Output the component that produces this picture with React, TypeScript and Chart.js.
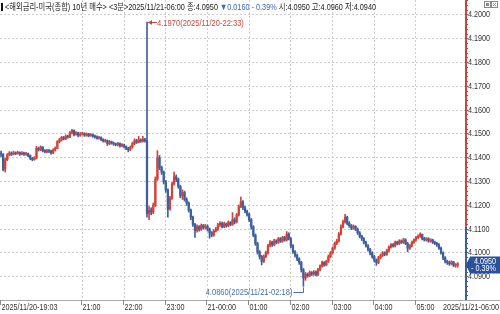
import React, { useEffect, useRef } from "react";
import { Chart, registerables } from "chart.js";
Chart.register(...registerables);

// ---- data (3-minute bars, 2025/11/20 19:03 .. 2025/11/21 06:00) ----
const firstOpen = 4.1420;
const closes = [
  4.1415, 4.1352, 4.1392, 4.1412, 4.1420, 4.1415, 4.1420, 4.1418, 4.1422, 4.1416,
  4.1420, 4.1415, 4.1418, 4.1410, 4.1398, 4.1393, 4.1398, 4.1440, 4.1435, 4.1445,
  4.1430, 4.1425, 4.1430, 4.1428, 4.1420, 4.1432, 4.1440, 4.1468, 4.1475, 4.1485,
  4.1480, 4.1490, 4.1488, 4.1505, 4.1515, 4.1498, 4.1505, 4.1495, 4.1500, 4.1502,
  4.1495, 4.1500, 4.1493, 4.1497, 4.1490, 4.1488, 4.1482, 4.1485, 4.1478, 4.1470,
  4.1472, 4.1460, 4.1468, 4.1462, 4.1458, 4.1455, 4.1460, 4.1450, 4.1455, 4.1448,
  4.1440, 4.1435, 4.1445, 4.1460, 4.1472, 4.1465, 4.1475, 4.1470, 4.1478, 4.1472,
  4.1165, 4.1180, 4.1172, 4.1200, 4.1310, 4.1400, 4.1360, 4.1340, 4.1300, 4.1265,
  4.1185, 4.1230, 4.1290, 4.1320, 4.1310, 4.1280, 4.1240, 4.1255, 4.1225, 4.1210,
  4.1180, 4.1150, 4.1120, 4.1095, 4.1110, 4.1100, 4.1115, 4.1108, 4.1112, 4.1100,
  4.1085, 4.1075, 4.1092, 4.1100, 4.1118, 4.1125, 4.1110, 4.1122, 4.1115, 4.1128,
  4.1120, 4.1140, 4.1130, 4.1160, 4.1195, 4.1215, 4.1190, 4.1175, 4.1162, 4.1140,
  4.1110, 4.1075, 4.1040, 4.1005, 4.0985, 4.0965, 4.0985, 4.1000, 4.1030, 4.1045,
  4.1035, 4.1050, 4.1045, 4.1060, 4.1050, 4.1065, 4.1055, 4.1080, 4.1060, 4.1030,
  4.1005, 4.0990, 4.0975, 4.0960, 4.0930, 4.0895, 4.0910, 4.0905, 4.0918, 4.0912,
  4.0920, 4.0910, 4.0930, 4.0945, 4.0960, 4.0950, 4.0965, 4.0985, 4.1000, 4.1020,
  4.1040, 4.1050, 4.1080, 4.1110, 4.1130, 4.1150, 4.1125, 4.1115, 4.1105, 4.1112,
  4.1100, 4.1085, 4.1070, 4.1060, 4.1045, 4.1030, 4.1015, 4.1000, 4.0985, 4.0970,
  4.0960, 4.0980, 4.0990, 4.1000, 4.0995, 4.1010, 4.1025, 4.1035, 4.1030, 4.1045,
  4.1040, 4.1050, 4.1045, 4.1055, 4.1040, 4.1020, 4.1030, 4.1045, 4.1055, 4.1065,
  4.1070, 4.1078, 4.1060, 4.1055, 4.1060, 4.1050, 4.1055, 4.1045, 4.1040, 4.1035,
  4.1020, 4.1000, 4.0980, 4.0965, 4.0960, 4.0955, 4.0962, 4.0948, 4.0950, 4.0950,
];
const highs = [
  4.1428, 4.1418, 4.1398, 4.1418, 4.1426, 4.1425, 4.1428, 4.1425, 4.1428, 4.1425,
  4.1426, 4.1424, 4.1423, 4.1420, 4.1412, 4.1402, 4.1405, 4.1448, 4.1445, 4.1450,
  4.1447, 4.1435, 4.1436, 4.1435, 4.1432, 4.1438, 4.1446, 4.1472, 4.1482, 4.1490,
  4.1490, 4.1496, 4.1495, 4.1510, 4.1520, 4.1518, 4.1510, 4.1508, 4.1506, 4.1508,
  4.1505, 4.1505, 4.1503, 4.1502, 4.1500, 4.1495, 4.1492, 4.1490, 4.1488, 4.1480,
  4.1478, 4.1475, 4.1473, 4.1470, 4.1466, 4.1462, 4.1465, 4.1463, 4.1460, 4.1458,
  4.1450, 4.1444, 4.1450, 4.1466, 4.1480, 4.1478, 4.1490, 4.1480, 4.1490, 4.1482,
  4.1970, 4.1195, 4.1190, 4.1210, 4.1320, 4.1430, 4.1410, 4.1365, 4.1345, 4.1305,
  4.1270, 4.1238, 4.1298, 4.1340, 4.1328, 4.1315, 4.1285, 4.1265, 4.1260, 4.1232,
  4.1215, 4.1185, 4.1155, 4.1125, 4.1118, 4.1115, 4.1122, 4.1120, 4.1120, 4.1118,
  4.1105, 4.1090, 4.1098, 4.1108, 4.1125, 4.1132, 4.1130, 4.1130, 4.1126, 4.1135,
  4.1132, 4.1170, 4.1148, 4.1166, 4.1202, 4.1235, 4.1220, 4.1196, 4.1180, 4.1168,
  4.1145, 4.1115, 4.1080, 4.1045, 4.1010, 4.0990, 4.0992, 4.1008, 4.1036, 4.1052,
  4.1050, 4.1058, 4.1056, 4.1066, 4.1065, 4.1070, 4.1070, 4.1090, 4.1085, 4.1065,
  4.1035, 4.1010, 4.0995, 4.0980, 4.0965, 4.0935, 4.0918, 4.0916, 4.0925, 4.0922,
  4.0926, 4.0925, 4.0936, 4.0950, 4.0966, 4.0964, 4.0970, 4.0992, 4.1006, 4.1026,
  4.1046, 4.1058, 4.1086, 4.1118, 4.1138, 4.1162, 4.1155, 4.1132, 4.1120, 4.1118,
  4.1115, 4.1105, 4.1090, 4.1075, 4.1065, 4.1050, 4.1035, 4.1020, 4.1005, 4.0990,
  4.0975, 4.0986, 4.0996, 4.1006, 4.1005, 4.1016, 4.1030, 4.1040, 4.1040, 4.1050,
  4.1050, 4.1056, 4.1055, 4.1062, 4.1060, 4.1045, 4.1036, 4.1050, 4.1060, 4.1070,
  4.1076, 4.1085, 4.1080, 4.1066, 4.1065, 4.1064, 4.1060, 4.1058, 4.1050, 4.1045,
  4.1040, 4.1025, 4.1005, 4.0985, 4.0970, 4.0966, 4.0968, 4.0965, 4.0956, 4.0960,
];
const lows = [
  4.1405, 4.1345, 4.1340, 4.1388, 4.1408, 4.1410, 4.1412, 4.1413, 4.1415, 4.1410,
  4.1412, 4.1410, 4.1410, 4.1405, 4.1392, 4.1388, 4.1390, 4.1395, 4.1428, 4.1430,
  4.1425, 4.1420, 4.1420, 4.1422, 4.1415, 4.1418, 4.1428, 4.1438, 4.1462, 4.1470,
  4.1475, 4.1476, 4.1482, 4.1485, 4.1500, 4.1492, 4.1495, 4.1488, 4.1490, 4.1495,
  4.1490, 4.1490, 4.1488, 4.1490, 4.1486, 4.1482, 4.1478, 4.1478, 4.1472, 4.1466,
  4.1465, 4.1452, 4.1455, 4.1457, 4.1452, 4.1450, 4.1450, 4.1445, 4.1446, 4.1442,
  4.1434, 4.1425, 4.1430, 4.1440, 4.1455, 4.1460, 4.1462, 4.1465, 4.1466, 4.1466,
  4.1150, 4.1140, 4.1160, 4.1165, 4.1195, 4.1305, 4.1350, 4.1330, 4.1290, 4.1255,
  4.1150, 4.1180, 4.1225, 4.1285, 4.1300, 4.1272, 4.1232, 4.1225, 4.1218, 4.1200,
  4.1172, 4.1140, 4.1112, 4.1065, 4.1088, 4.1092, 4.1095, 4.1100, 4.1102, 4.1092,
  4.1062, 4.1068, 4.1070, 4.1088, 4.1095, 4.1112, 4.1105, 4.1106, 4.1108, 4.1110,
  4.1114, 4.1116, 4.1122, 4.1126, 4.1155, 4.1190, 4.1182, 4.1168, 4.1155, 4.1132,
  4.1100, 4.1068, 4.1032, 4.0995, 4.0975, 4.0950, 4.0960, 4.0980, 4.0995, 4.1025,
  4.1028, 4.1030, 4.1038, 4.1040, 4.1044, 4.1045, 4.1050, 4.1050, 4.1055, 4.1022,
  4.0998, 4.0982, 4.0968, 4.0952, 4.0920, 4.0860, 4.0885, 4.0898, 4.0900, 4.0905,
  4.0906, 4.0904, 4.0905, 4.0925, 4.0940, 4.0944, 4.0946, 4.0960, 4.0980, 4.0995,
  4.1015, 4.1035, 4.1045, 4.1075, 4.1105, 4.1125, 4.1118, 4.1108, 4.1098, 4.1100,
  4.1094, 4.1078, 4.1064, 4.1052, 4.1038, 4.1024, 4.1008, 4.0992, 4.0978, 4.0962,
  4.0948, 4.0955, 4.0975, 4.0985, 4.0988, 4.0990, 4.1005, 4.1020, 4.1024, 4.1025,
  4.1034, 4.1035, 4.1040, 4.1040, 4.1035, 4.1005, 4.1015, 4.1025, 4.1040, 4.1050,
  4.1060, 4.1065, 4.1055, 4.1050, 4.1050, 4.1045, 4.1045, 4.1040, 4.1035, 4.1028,
  4.1015, 4.0995, 4.0972, 4.0958, 4.0952, 4.0948, 4.0950, 4.0942, 4.0940, 4.0940,
];
const prevClose = 4.1110;
const tickIdx = [0, 39, 59, 79, 99, 119, 139, 159, 179, 199, 219];
const tickLabels = [
  "2025/11/20-19:03", "21:00", "22:00", "23:00", "21-00:00", "01:00",
  "02:00", "03:00", "04:00", "05:00", "2025/11/21-06:00",
];
const maxIdx = 70;
const maxTime = "2025/11/20-22:33";
const minIdx = 145;
const minTime = "2025/11/21-02:18";
const titleText = "<해외금리-미국(종합) 10년 매수> <3분>2025/11/21-06:00";

// ---- style ----
const W = 500;
const H = 314;
const RED = "#d2423a";
const BLUE = "#3d5f9f";
const FONT = '9px "Liberation Sans", Arial, sans-serif';
const HFONT = '9px "Liberation Sans", "Noto Sans CJK KR", sans-serif';
const SX = 0.8;
const yMax = 4.2063;
const yMin = 4.08025;

const isMajor = (v: number) => Math.abs(Math.round(v * 100) - v * 100) < 1e-6;

function txt(ctx: CanvasRenderingContext2D, s: string, x: number, y: number, align: CanvasTextAlign, sx = SX) {
  ctx.save();
  ctx.translate(x, y);
  ctx.scale(sx, 1);
  ctx.textAlign = align;
  ctx.textBaseline = "middle";
  ctx.fillText(s, 0, 0);
  ctx.restore();
}

const decor = {
  id: "decor",
  afterDraw(chart: any) {
    const ctx: CanvasRenderingContext2D = chart.ctx;
    const xs = chart.scales.x;
    const ys = chart.scales.y;
    const a = chart.chartArea;
    const n = closes.length;
    const last = closes[n - 1];
    ctx.save();

    // right axis line split at previous close
    const yPrev = ys.getPixelForValue(prevClose);
    ctx.lineWidth = 2;
    ctx.strokeStyle = RED;
    ctx.beginPath();
    ctx.moveTo(a.right + 1, 0);
    ctx.lineTo(a.right + 1, yPrev);
    ctx.stroke();
    ctx.strokeStyle = BLUE;
    ctx.beginPath();
    ctx.moveTo(a.right + 1, yPrev);
    ctx.lineTo(a.right + 1, a.bottom);
    ctx.stroke();

    // bottom axis line
    ctx.strokeStyle = "#a8a8a8";
    ctx.lineWidth = 1;
    ctx.beginPath();
    ctx.moveTo(0, a.bottom + 0.5);
    ctx.lineTo(W, a.bottom + 0.5);
    ctx.stroke();

    // x ticks + labels
    ctx.font = FONT;
    tickIdx.forEach((idx, k) => {
      const isLast = k === tickIdx.length - 1;
      const px = Math.round(xs.getPixelForValue(idx)) - 0.5;
      if (!isLast) {
        ctx.strokeStyle = "#888";
        ctx.beginPath();
        ctx.moveTo(Math.max(px, 0.5), a.bottom);
        ctx.lineTo(Math.max(px, 0.5), a.bottom + 5);
        ctx.stroke();
      }
      ctx.fillStyle = "#333";
      txt(ctx, tickLabels[k], isLast ? W - 1 : Math.max(px, 0) + 1, a.bottom + 7.5, isLast ? "right" : "left");
    });

    // y labels (major ticks of the library's y scale)
    ctx.fillStyle = "#333";
    ys.ticks.forEach((t: any) => {
      if (!isMajor(t.value)) return;
      txt(ctx, t.value.toFixed(4), a.right + 3, ys.getPixelForValue(t.value), "left");
    });

    // current price tag
    const yp = ys.getPixelForValue(last);
    const x0 = a.right + 1;
    ctx.fillStyle = "#2b5196";
    ctx.beginPath();
    ctx.moveTo(x0, yp);
    ctx.lineTo(x0 + 4, yp - 8.5);
    ctx.lineTo(W, yp - 8.5);
    ctx.lineTo(W, yp + 8.5);
    ctx.lineTo(x0 + 4, yp + 8.5);
    ctx.closePath();
    ctx.fill();
    const chg = prevClose - last;
    const pct = (chg / prevClose) * 100;
    ctx.fillStyle = "#fff";
    txt(ctx, last.toFixed(4), x0 + 8, yp - 3.5, "left");
    txt(ctx, `- ${pct.toFixed(2)}%`, x0 + 5, yp + 4, "left");

    // max annotation
    const xm = xs.getPixelForValue(maxIdx);
    const ym = Math.round(ys.getPixelForValue(highs[maxIdx])) + 0.5;
    ctx.strokeStyle = "#c8463c";
    ctx.fillStyle = "#c8463c";
    ctx.lineWidth = 1;
    ctx.beginPath();
    ctx.moveTo(xm + 1, ym);
    ctx.lineTo(xm + 10, ym);
    ctx.stroke();
    ctx.beginPath();
    ctx.moveTo(xm + 1, ym);
    ctx.lineTo(xm + 5, ym - 2.5);
    ctx.lineTo(xm + 5, ym + 2.5);
    ctx.closePath();
    ctx.fill();
    ctx.font = FONT;
    txt(ctx, `${highs[maxIdx].toFixed(4)}(${maxTime})`, xm + 10, ym + 1, "left", 0.84);

    // min annotation
    const xl = Math.round(xs.getPixelForValue(minIdx)) + 0.5;
    const yl = ys.getPixelForValue(lows[minIdx]);
    const ty = Math.round(yl + 6) + 0.5;
    ctx.strokeStyle = "#4a6fa8";
    ctx.fillStyle = "#4a6fa8";
    ctx.beginPath();
    ctx.moveTo(xl - 10, ty);
    ctx.lineTo(xl, ty);
    ctx.lineTo(xl, yl + 1);
    ctx.stroke();
    txt(ctx, `${lows[minIdx].toFixed(4)}(${minTime})`, xl - 11, ty, "right", 0.84);

    // header
    ctx.fillStyle = "#111";
    ctx.fillRect(1, 3, 2, 8);
    const segs = [
      { t: `${titleText} 종:${last.toFixed(4)} `, c: "#222" },
      { t: `▼${chg.toFixed(4)} - ${pct.toFixed(2)}% `, c: "#3a64c0" },
      {
        t: `시:${last.toFixed(4)} 고:${highs[n - 1].toFixed(4)} 저:${lows[n - 1].toFixed(4)}`,
        c: "#222",
      },
    ];
    ctx.font = HFONT;
    ctx.textAlign = "left";
    ctx.textBaseline = "middle";
    const natural = segs.reduce((s, g) => s + ctx.measureText(g.t).width, 0);
    const sc = 371 / natural;
    ctx.save();
    ctx.translate(5, 7.5);
    ctx.scale(sc, 1);
    let cx = 0;
    segs.forEach((g) => {
      ctx.fillStyle = g.c;
      ctx.fillText(g.t, cx, 0);
      cx += ctx.measureText(g.t).width;
    });
    ctx.restore();

    // window icons
    ctx.strokeStyle = "#8a8a8a";
    ctx.lineWidth = 1;
    ctx.strokeRect(484.5, 1.5, 6, 6);
    ctx.fillStyle = "#8a8a8a";
    ctx.fillRect(486, 3, 3, 3);
    ctx.strokeRect(491.5, 1.5, 6, 6);
    ctx.beginPath();
    ctx.moveTo(493, 3);
    ctx.lineTo(496, 6);
    ctx.moveTo(496, 3);
    ctx.lineTo(493, 6);
    ctx.stroke();

    ctx.restore();
  },
};

export default function App() {
  const ref = useRef<HTMLCanvasElement>(null);
  useEffect(() => {
    const opens = closes.map((c, i) => (i === 0 ? firstOpen : closes[i - 1]));
    const colors = closes.map((c, i) => (c >= opens[i] ? RED : BLUE));
    const bodies = closes.map((c, i) => ({ x: i, y: [Math.min(opens[i], c), Math.max(opens[i], c)] }));
    const wicks = closes.map((c, i) => ({ x: i, y: [lows[i], highs[i]] }));
    const chart = new Chart(ref.current as HTMLCanvasElement, {
      type: "bar",
      data: {
        datasets: [
          { data: bodies as any, backgroundColor: colors, barThickness: 1.6, minBarLength: 1, grouped: false, borderWidth: 0 } as any,
          { data: wicks as any, backgroundColor: colors, barThickness: 1, grouped: false, borderWidth: 0 } as any,
        ],
      },
      options: {
        animation: false,
        responsive: false,
        devicePixelRatio: 1,
        layout: { padding: { left: 0, right: 0, top: 0, bottom: 14 } },
        plugins: { legend: { display: false }, tooltip: { enabled: false } },
        scales: {
          x: {
            type: "linear",
            offset: false,
            min: -0.5,
            max: 222.5,
            afterBuildTicks: (s: any) => {
              s.ticks = tickIdx.slice(1, -1).map((v) => ({ value: v }));
            },
            afterFit: (s: any) => {
              s.paddingLeft = 0;
              s.paddingRight = 0;
            },
            ticks: { display: false },
            grid: { color: "#cdcdcd", drawTicks: false, offset: false },
            border: { display: false, dash: [2, 2] },
          },
          y: {
            position: "right",
            min: yMin,
            max: yMax,
            afterFit: (s: any) => {
              s.width = 35;
              s.paddingTop = 0;
              s.paddingBottom = 0;
            },
            ticks: {
              display: false,
              stepSize: 0.002,
              maxTicksLimit: 100,
              autoSkip: false,
              includeBounds: false,
            },
            grid: {
              color: (c: any) => (c.tick && isMajor(c.tick.value) ? "#cdcdcd" : "rgba(0,0,0,0)"),
              tickColor: (c: any) => (c.tick && c.tick.value >= prevClose ? RED : BLUE),
              tickLength: 3,
              drawTicks: true,
            },
            border: { display: false, dash: [2, 2] },
          },
        },
      } as any,
      plugins: [decor],
    });
    return () => chart.destroy();
  }, []);
  return (
    <div style={{ position: "absolute", left: 0, top: 0, width: W, height: H, background: "#fff" }}>
      <canvas ref={ref} width={W} height={H} style={{ display: "block", width: W, height: H }} />
    </div>
  );
}
